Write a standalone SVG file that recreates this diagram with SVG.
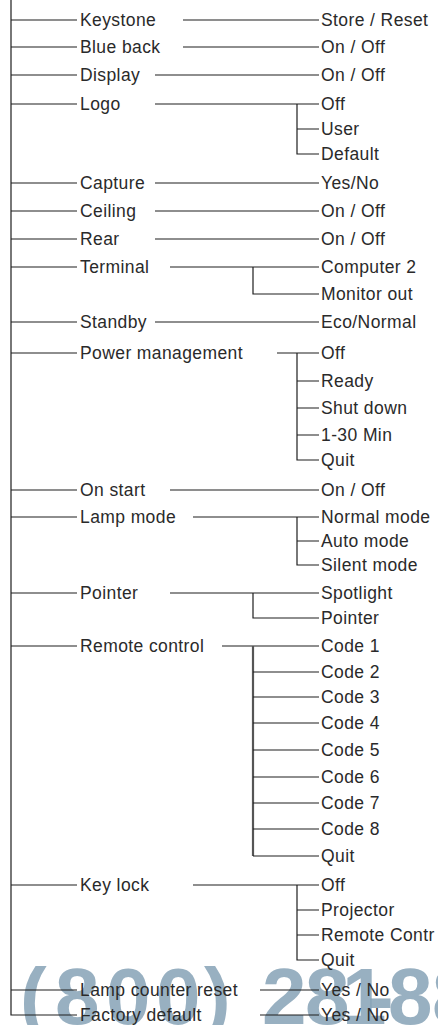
<svg xmlns="http://www.w3.org/2000/svg" width="438" height="1025" viewBox="0 0 438 1025">
<style>
text{font-family:"Liberation Sans",Arial,sans-serif;font-size:17.5px;letter-spacing:0.4px;fill:#2a2a2a}
.c line,.c path{stroke:#1e1e1e;stroke-width:1.2;fill:none}
.c .thick{stroke:#555;stroke-width:2.2}
.wm{font-family:"Liberation Sans",Arial,sans-serif;font-weight:bold;font-size:80px;letter-spacing:0;fill:#86a2b6;fill-opacity:0.85}
</style>
<rect width="438" height="1025" fill="#fff"/>
<g id="watermark"><text class="wm" x="20 55 106 156 204 262 305 342 367 388 432" y="1024">(800)281-88</text></g>
<g class="c" id="connectors">
<path d="M11 0V1015H77"/>
<line x1="11" y1="20" x2="77" y2="20"/><line x1="183" y1="20" x2="319" y2="20"/>
<line x1="11" y1="47" x2="77" y2="47"/><line x1="183" y1="47" x2="319" y2="47"/>
<line x1="11" y1="75" x2="77" y2="75"/><line x1="155" y1="75" x2="319" y2="75"/>
<line x1="11" y1="104" x2="77" y2="104"/><line x1="155" y1="104" x2="319" y2="104"/>
<path d="M297 104V154H319M297 129H319"/>
<line x1="11" y1="183" x2="77" y2="183"/><line x1="155" y1="183" x2="319" y2="183"/>
<line x1="11" y1="211" x2="77" y2="211"/><line x1="155" y1="211" x2="319" y2="211"/>
<line x1="11" y1="239" x2="77" y2="239"/><line x1="155" y1="239" x2="319" y2="239"/>
<line x1="11" y1="267" x2="77" y2="267"/><line x1="170" y1="267" x2="319" y2="267"/>
<path d="M253 267V294H319"/>
<line x1="11" y1="322" x2="77" y2="322"/><line x1="155" y1="322" x2="319" y2="322"/>
<line x1="11" y1="353" x2="77" y2="353"/><line x1="277" y1="353" x2="319" y2="353"/>
<path d="M297 353V460H319M297 381H319M297 408H319M297 435H319"/>
<line x1="11" y1="490" x2="77" y2="490"/><line x1="170" y1="490" x2="319" y2="490"/>
<line x1="11" y1="517" x2="77" y2="517"/><line x1="193" y1="517" x2="319" y2="517"/>
<path d="M297 517V565H319M297 541H319"/>
<line x1="11" y1="593" x2="77" y2="593"/><line x1="170" y1="593" x2="319" y2="593"/>
<path d="M253 593V618H319"/>
<line x1="11" y1="646" x2="77" y2="646"/><line x1="222" y1="646" x2="319" y2="646"/>
<line class="thick" x1="253" y1="646" x2="253" y2="856"/>
<path d="M253 856H319M253 672H319M253 697H319M253 723H319M253 750H319M253 777H319M253 803H319M253 829H319"/>
<line x1="11" y1="885" x2="77" y2="885"/><line x1="193" y1="885" x2="319" y2="885"/>
<path d="M297 885V960H319M297 910H319M297 935H319"/>
<line x1="11" y1="990" x2="77" y2="990"/><line x1="260" y1="990" x2="319" y2="990"/>
<line x1="260" y1="1015" x2="319" y2="1015"/>
</g>
<g id="keystone"><text x="80" y="26">Keystone</text><text x="321" y="26">Store / Reset</text></g>
<g id="blue-back"><text x="80" y="53">Blue back</text><text x="321" y="53">On / Off</text></g>
<g id="display"><text x="80" y="81">Display</text><text x="321" y="81">On / Off</text></g>
<g id="logo"><text x="80" y="110">Logo</text><text x="321" y="110">Off</text><text x="321" y="135">User</text><text x="321" y="160">Default</text></g>
<g id="capture"><text x="80" y="189">Capture</text><text x="321" y="189">Yes/No</text></g>
<g id="ceiling"><text x="80" y="217">Ceiling</text><text x="321" y="217">On / Off</text></g>
<g id="rear"><text x="80" y="245">Rear</text><text x="321" y="245">On / Off</text></g>
<g id="terminal"><text x="80" y="273">Terminal</text><text x="321" y="273">Computer 2</text><text x="321" y="300">Monitor out</text></g>
<g id="standby"><text x="80" y="328">Standby</text><text x="321" y="328">Eco/Normal</text></g>
<g id="power-management"><text x="80" y="359">Power management</text><text x="321" y="359">Off</text><text x="321" y="387">Ready</text><text x="321" y="414">Shut down</text><text x="321" y="441">1-30 Min</text><text x="321" y="466">Quit</text></g>
<g id="on-start"><text x="80" y="496">On start</text><text x="321" y="496">On / Off</text></g>
<g id="lamp-mode"><text x="80" y="523">Lamp mode</text><text x="321" y="523">Normal mode</text><text x="321" y="547">Auto mode</text><text x="321" y="571">Silent mode</text></g>
<g id="pointer"><text x="80" y="599">Pointer</text><text x="321" y="599">Spotlight</text><text x="321" y="624">Pointer</text></g>
<g id="remote-control"><text x="80" y="652">Remote control</text><text x="321" y="652">Code 1</text><text x="321" y="678">Code 2</text><text x="321" y="703">Code 3</text><text x="321" y="729">Code 4</text><text x="321" y="756">Code 5</text><text x="321" y="783">Code 6</text><text x="321" y="809">Code 7</text><text x="321" y="835">Code 8</text><text x="321" y="862">Quit</text></g>
<g id="key-lock"><text x="80" y="891">Key lock</text><text x="321" y="891">Off</text><text x="321" y="916">Projector</text><text x="321" y="941">Remote Contr</text><text x="321" y="966">Quit</text></g>
<g id="lamp-counter-reset"><text x="80" y="996">Lamp counter reset</text><text x="321" y="996">Yes / No</text></g>
<g id="factory-default"><text x="80" y="1021">Factory default</text><text x="321" y="1021">Yes / No</text></g>
</svg>
